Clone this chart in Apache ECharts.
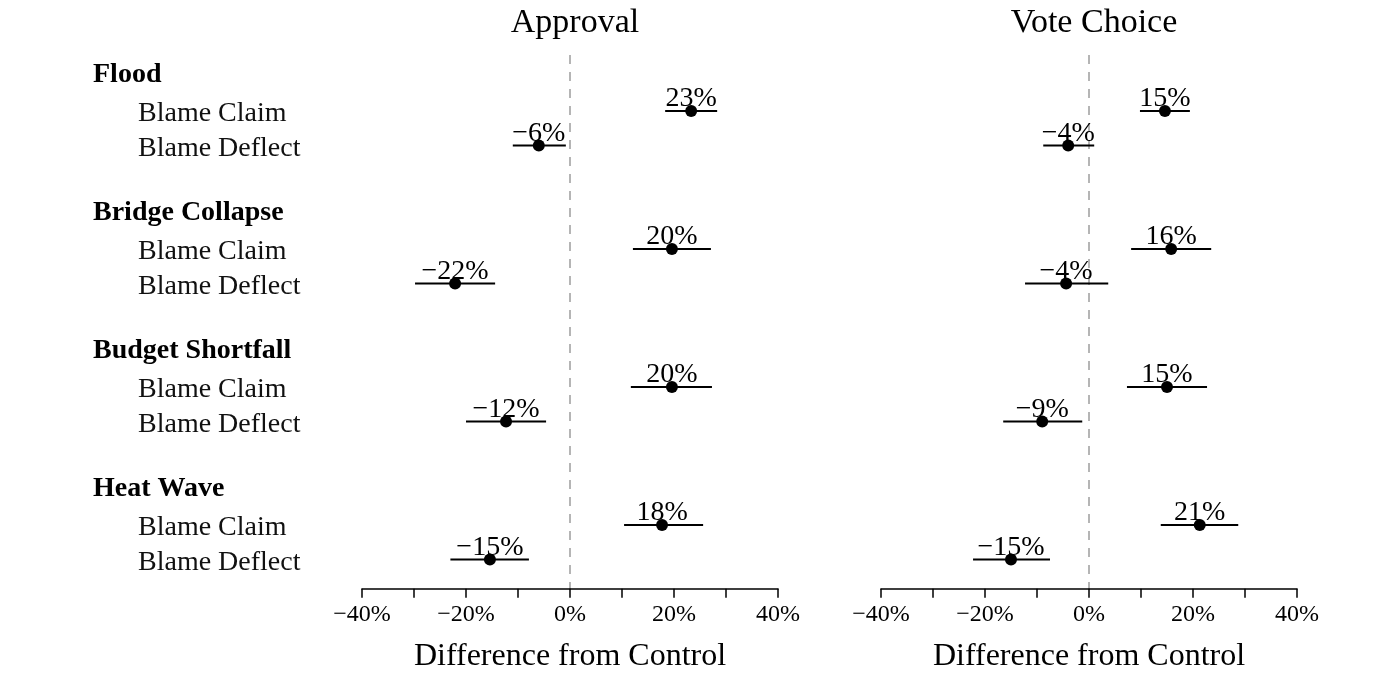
<!DOCTYPE html>
<html>
<head>
<meta charset="utf-8">
<script src="https://cdn.jsdelivr.net/npm/echarts@6/dist/echarts.min.js"></script>
<style>
  html, body { margin: 0; padding: 0; background: #fff; }
  #main { width: 1400px; height: 700px; }
</style>
</head>
<body>
<div id="main"></div>
<script>
var groups = ['Flood', 'Bridge Collapse', 'Budget Shortfall', 'Heat Wave'];
var conditions = ['Blame Claim', 'Blame Deflect'];
var panels = ['Approval', 'Vote Choice'];

// estimates and 95% interval ends, in order: group x condition
var approvalEst = [23.3, -6.0, 19.6, -22.1, 19.6, -12.3, 17.7, -15.4];
var approvalLo  = [18.3, -11.0, 12.1, -29.8, 11.7, -20.0, 10.4, -23.0];
var approvalHi  = [28.3, -0.8, 27.1, -14.4, 27.3, -4.6, 25.6, -7.9];

var voteEst = [14.6, -4.0, 15.8, -4.4, 15.0, -9.0, 21.3, -15.0];
var voteLo  = [9.8, -8.8, 8.1, -12.3, 7.3, -16.5, 13.8, -22.3];
var voteHi  = [19.4, 1.0, 23.5, 3.7, 22.7, -1.3, 28.7, -7.5];

var FONT = '"Liberation Serif", "Times New Roman", serif';

// rows of the y axis: group header, two conditions, blank spacer
var rows = [];
var rowOf = [];
groups.forEach(function (g, gi) {
    rows.push(g);
    conditions.forEach(function (c) {
        rowOf.push(g + '|' + c);
        rows.push(g + '|' + c);
    });
    if (gi < groups.length - 1) rows.push(g + '|');
});

function pct(v) {
    return (v < 0 ? '\u2212' : '') + Math.abs(v) + '%';
}

var chart = echarts.init(document.getElementById('main'));

var lefts = [362, 881];
var W = 416;
var gridTop = 59.25;
var gridH = 517.5;

var grids = [], xAxes = [], yAxes = [], series = [], titles = [];

lefts.forEach(function (left, p) {
    grids.push({left: left, width: W, top: gridTop, height: gridH});
    titles.push({
        text: panels[p],
        left: left + W / 2,
        top: 1,
        textAlign: 'center',
        textStyle: {fontFamily: FONT, fontSize: 34, fontWeight: 'normal', color: '#000'}
    });
    xAxes.push({
        gridIndex: p,
        type: 'value',
        min: -40, max: 40, interval: 10,
        offset: 12,
        name: 'Difference from Control',
        nameLocation: 'middle',
        nameGap: 52,
        nameTextStyle: {fontFamily: FONT, fontSize: 32, color: '#000'},
        axisLine: {show: true, lineStyle: {color: '#000', width: 1.5}},
        axisTick: {show: true, length: 9, lineStyle: {color: '#000', width: 1.5}},
        axisLabel: {
            margin: 14,
            fontFamily: FONT, fontSize: 24, color: '#000',
            formatter: function (v) { return v % 20 === 0 ? pct(v) : ''; }
        },
        splitLine: {show: false}
    });
    yAxes.push({
        gridIndex: p,
        type: 'category',
        data: rows,
        inverse: true,
        axisLine: {show: false},
        axisTick: {show: false},
        splitLine: {show: false},
        axisLabel: {
            show: p === 0,
            interval: 0,
            align: 'left',
            margin: 269,
            color: '#000',
            formatter: function (v) {
                var i = v.indexOf('|');
                if (i < 0) return '{head|' + v + '}';
                var c = v.slice(i + 1);
                return c ? '{item|' + c + '}' : '';
            },
            rich: {
                head: {fontFamily: FONT, fontSize: 28, fontWeight: 'bold', color: '#000', padding: [0, 0, 3, 0]},
                item: {fontFamily: FONT, fontSize: 28, color: '#111', padding: [6, 0, 0, 45]}
            }
        }
    });
});

// helper grids that only carry the dashed zero line
lefts.forEach(function (left, p) {
    grids.push({left: left, width: W, top: 55, bottom: 111});
    xAxes.push({
        gridIndex: 2 + p,
        type: 'value',
        min: -40, max: 40, interval: 40,
        axisLine: {show: false},
        axisTick: {show: false},
        axisLabel: {show: false},
        splitLine: {
            show: true,
            showMinLine: false,
            showMaxLine: false,
            lineStyle: {color: '#b5b5b5', width: 2, type: [9, 8]}
        }
    });
    yAxes.push({gridIndex: 2 + p, type: 'value', min: 0, max: 1, show: false});
});

var sets = [
    {est: approvalEst, lo: approvalLo, hi: approvalHi},
    {est: voteEst, lo: voteLo, hi: voteHi}
];

sets.forEach(function (s, p) {
    series.push({
        type: 'custom',
        xAxisIndex: p, yAxisIndex: p,
        encode: {x: [0, 1], y: 2},
        data: s.lo.map(function (lo, i) { return [lo, s.hi[i], rowOf[i]]; }),
        renderItem: function (params, api) {
            var y = api.value(2);
            var a = api.coord([api.value(0), y]);
            var b = api.coord([api.value(1), y]);
            return {
                type: 'line',
                shape: {x1: a[0], y1: a[1], x2: b[0], y2: b[1]},
                style: {stroke: '#000', lineWidth: 2}
            };
        },
        z: 2
    });
    series.push({
        type: 'scatter',
        xAxisIndex: p, yAxisIndex: p,
        symbol: 'circle',
        symbolSize: 12,
        itemStyle: {color: '#000', opacity: 1},
        data: s.est.map(function (v, i) { return [v, rowOf[i]]; }),
        label: {
            show: true,
            position: 'top',
            distance: -8,
            fontFamily: FONT,
            fontSize: 28,
            color: '#000',
            formatter: function (d) { return pct(Math.round(d.value[0])); }
        },
        emphasis: {disabled: true},
        z: 3
    });
});

chart.setOption({
    backgroundColor: '#fff',
    animation: false,
    title: titles,
    grid: grids,
    xAxis: xAxes,
    yAxis: yAxes,
    series: series
});
</script>
</body>
</html>
